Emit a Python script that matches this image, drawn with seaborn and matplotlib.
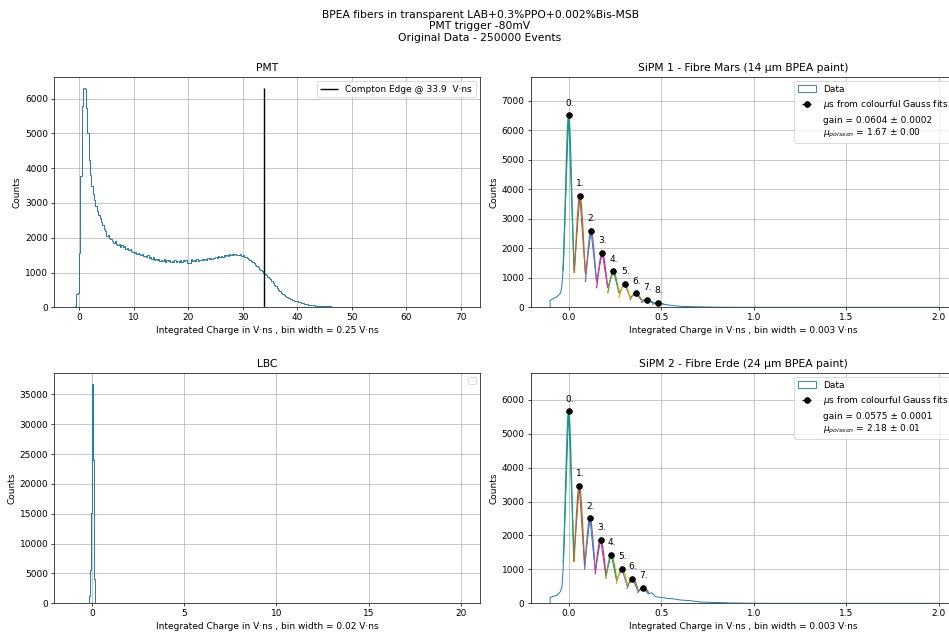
import numpy as np
import pandas as pd
import matplotlib
matplotlib.use("Agg")
import matplotlib.pyplot as plt
from matplotlib.patches import Patch
from matplotlib.lines import Line2D
import seaborn as sns

plt.rcParams["font.size"] = 10.3

# ---------------- PMT histogram (bin width 0.25 V·ns, edges start at -1.0) ----------------
pmt_start = -1.0
pmt_width = 0.25
pmt_counts = [
    0, 40, 380, 420,
    1570, 3780, 5790, 6316,
    6280, 5720, 5000, 4250,
    3800, 3500, 3250, 3080,
    2920, 2780, 2650, 2560,
    2440, 2360, 2260, 2190,
    2060, 2090, 1990, 1960,
    1920, 1860, 1900, 1820,
    1790, 1830, 1740, 1800,
    1720, 1760, 1690, 1710,
    1650, 1680, 1620, 1600,
    1560, 1580, 1530, 1550,
    1520, 1490, 1540, 1470,
    1480, 1450, 1490, 1420,
    1440, 1400, 1450, 1370,
    1390, 1360, 1400, 1340,
    1360, 1330, 1380, 1310,
    1350, 1320, 1370, 1300,
    1340, 1310, 1350, 1290,
    1330, 1300, 1360, 1310,
    1370, 1320, 1350, 1270,
    1260, 1280, 1390, 1340,
    1360, 1330, 1380, 1340,
    1370, 1350, 1390, 1360,
    1400, 1370, 1410, 1380,
    1420, 1390, 1430, 1410,
    1450, 1420, 1470, 1440,
    1480, 1460, 1500, 1470,
    1510, 1480, 1530, 1490,
    1520, 1500, 1540, 1490,
    1510, 1500, 1530, 1480,
    1490, 1460, 1450, 1420,
    1400, 1370, 1330, 1300,
    1260, 1230, 1180, 1150,
    1110, 1080, 1040, 1000,
    960, 920, 880, 840,
    810, 760, 710, 650,
    600, 560, 510, 460,
    420, 380, 350, 320,
    300, 280, 262, 245,
    220, 205, 195, 185,
    170, 155, 140, 130,
    120, 105, 95, 85,
    78, 70, 62, 56,
    52, 46, 42, 38,
    44, 40, 37, 34,
    32, 30, 28, 26,
    24, 22, 20, 18,
    15, 12, 8, 5,
    0,
]
compton_edge = 33.9

# ---------------- LBC histogram (bin width 0.02 V·ns) ----------------
lbc_start = -0.22
lbc_width = 0.02
lbc_counts = [0, 0, 50, 300, 1200, 3000, 5500, 8800, 12500, 15200, 23600,
              31200, 36800, 32000, 24000, 16000, 9000, 4000, 1500, 300, 50, 0]

# ---------------- SiPM 1 ----------------
sipm1_x = [-0.100, -0.100, -0.081, -0.063, -0.045, -0.038, -0.034, -0.030,
           0.000, 0.030, 0.060, 0.091, 0.121, 0.151, 0.181, 0.211, 0.242,
           0.272, 0.302, 0.332, 0.362, 0.392, 0.423, 0.453, 0.483, 0.513,
           0.550, 0.604, 0.694, 0.784, 0.874, 0.964, 2.000]
sipm1_counts = [0, 230, 305, 360, 474, 644, 925, 1264,
                6516, 1240, 3772, 1118, 2586, 857, 1840, 678, 1219,
                495, 800, 339, 474, 250, 247, 160, 146, 105,
                68, 34, 17, 6, 3, 0, 0]
sipm1_mu = [0.000, 0.0604, 0.1208, 0.1812, 0.2416, 0.302, 0.3624, 0.4228, 0.4832]
sipm1_amp = [6516, 3772, 2586, 1840, 1219, 800, 474, 247, 146]
sipm1_sigma = [0.0166, 0.0198, 0.0205, 0.0212, 0.0224, 0.0229, 0.028, 0.035, 0.040]
sipm1_gain = 0.0604
sipm1_text = "gain = 0.0604 ± 0.0002\n$\\mu_{poisson}$ = 1.67 ± 0.00"

# ---------------- SiPM 2 ----------------
sipm2_x = [-0.100, -0.100, -0.080, -0.063, -0.045, -0.036, -0.030,
           0.000, 0.029, 0.0575, 0.086, 0.115, 0.144, 0.1725, 0.201, 0.230,
           0.259, 0.2875, 0.316, 0.345, 0.374, 0.4025, 0.431, 0.450, 0.469,
           0.496, 0.532, 0.568, 0.604, 0.658, 0.712, 0.784, 0.874, 0.964,
           1.050, 2.000]
sipm2_counts = [0, 177, 210, 235, 343, 490, 981,
                5668, 1423, 3457, 1079, 2505, 943, 1875, 814, 1433,
                667, 1020, 510, 726, 372, 461, 274, 313, 196,
                177, 147, 128, 98, 77, 38, 25, 10, 3,
                0, 0]
sipm2_mu = [0.000, 0.0575, 0.115, 0.1725, 0.230, 0.2875, 0.345, 0.4025]
sipm2_amp = [5668, 3457, 2505, 1875, 1433, 1020, 726, 461]
sipm2_sigma = [0.0165, 0.0201, 0.0213, 0.0233, 0.0250, 0.0275, 0.0288, 0.034]
sipm2_gain = 0.0575
sipm2_text = "gain = 0.0575 ± 0.0001\n$\\mu_{poisson}$ = 2.18 ± 0.01"

suptitle = ("BPEA fibers in transparent LAB+0.3%PPO+0.002%Bis-MSB\n"
            "PMT trigger -80mV\nOriginal Data - 250000 Events")

DPI = 62.5
fig = plt.figure(figsize=(949 / DPI, 637 / DPI), dpi=DPI)
W, H = 949.0, 637.0


def place(left, top, right, bottom):
    return fig.add_axes([left / W, 1 - bottom / H, (right - left) / W, (bottom - top) / H])


ax_pmt = place(54.3, 76.7, 480.0, 307.3)
ax_s1 = place(530.7, 76.7, 956.4, 307.3)
ax_lbc = place(54.3, 372.7, 480.0, 603.3)
ax_s2 = place(530.7, 372.7, 956.4, 603.3)

fit_colors = sns.color_palette("Dark2", 8)


def step_hist(ax, start, width, counts):
    counts = [float(c) for c in counts]
    n = len(counts)
    edges = [start + width * i for i in range(n + 1)]
    table = pd.DataFrame({
        "charge": [start + width * (i + 0.5) for i in range(n)],
        "count": counts,
    })
    sns.histplot(data=table, x="charge", weights="count", bins=edges,
                 element="step", fill=False, color="C0", linewidth=1.1, ax=ax)
    return max(counts)


# PMT
pmax = step_hist(ax_pmt, pmt_start, pmt_width, pmt_counts)
ax_pmt.vlines(compton_edge, 0, pmax, color="k", linewidth=1.6,
              label=f"Compton Edge @ {compton_edge}  V·ns")
ax_pmt.set_xlim(-4.55, 73.55)
ax_pmt.set_ylim(0, 1.05 * pmax)
ax_pmt.legend(loc="upper right")
ax_pmt.set_title("PMT")
ax_pmt.set_xlabel("Integrated Charge in V·ns , bin width = 0.25 V·ns")

# LBC
lmax = step_hist(ax_lbc, lbc_start, lbc_width, lbc_counts)
ax_lbc.set_xlim(-2.05, 21.05)
ax_lbc.set_ylim(0, 1.05 * lmax)
ax_lbc.legend(handles=[], labels=[], loc="upper right")
ax_lbc.set_title("LBC")
ax_lbc.set_xlabel("Integrated Charge in V·ns , bin width = 0.02 V·ns")


def sipm_panel(ax, xs, counts, mus, amps, sigmas, gain, text, title):
    sns.lineplot(x=xs, y=counts, estimator=None, sort=False, color="C0",
                 linewidth=1.1, ax=ax)
    for k, (mu, a, s) in enumerate(zip(mus, amps, sigmas)):
        xx = np.linspace(mu - gain / 2, mu + gain / 2, 80)
        yy = a * np.exp(-0.5 * ((xx - mu) / s) ** 2)
        sns.lineplot(x=xx, y=yy, color=fit_colors[k % 8], linewidth=1.5,
                     estimator=None, sort=False, ax=ax)
    top = max(counts + amps)
    eb = ax.errorbar(mus, amps, xerr=[0.0005] * len(mus), fmt="o", color="k",
                     markersize=6.5, zorder=5)
    for k, (mu, a) in enumerate(zip(mus, amps)):
        ax.text(mu - 0.02, a + 0.05 * top, f"{k}.")
    ax.set_xlim(-0.205, 2.095)
    ax.set_ylim(0, 1.2 * top)
    handles = [Patch(facecolor="none", edgecolor="C0"), eb,
               Line2D([], [], linestyle="none")]
    labels = ["Data", "$\\mu$s from colourful Gauss fits", text]
    ax.legend(handles, labels, loc="upper right")
    ax.set_title(title)
    ax.set_xlabel("Integrated Charge in V·ns , bin width = 0.003 V·ns")


sipm_panel(ax_s1, sipm1_x, sipm1_counts, sipm1_mu, sipm1_amp, sipm1_sigma,
           sipm1_gain, sipm1_text, "SiPM 1 - Fibre Mars (14 µm BPEA paint)")
sipm_panel(ax_s2, sipm2_x, sipm2_counts, sipm2_mu, sipm2_amp, sipm2_sigma,
           sipm2_gain, sipm2_text, "SiPM 2 - Fibre Erde (24 µm BPEA paint)")

for ax in (ax_pmt, ax_s1, ax_lbc, ax_s2):
    ax.set_ylabel("Counts")
    ax.grid(True)
    ax.set_axisbelow(True)

fig.suptitle(suptitle, x=480 / W, y=0.985)
fig.savefig("out.png", dpi=DPI)
